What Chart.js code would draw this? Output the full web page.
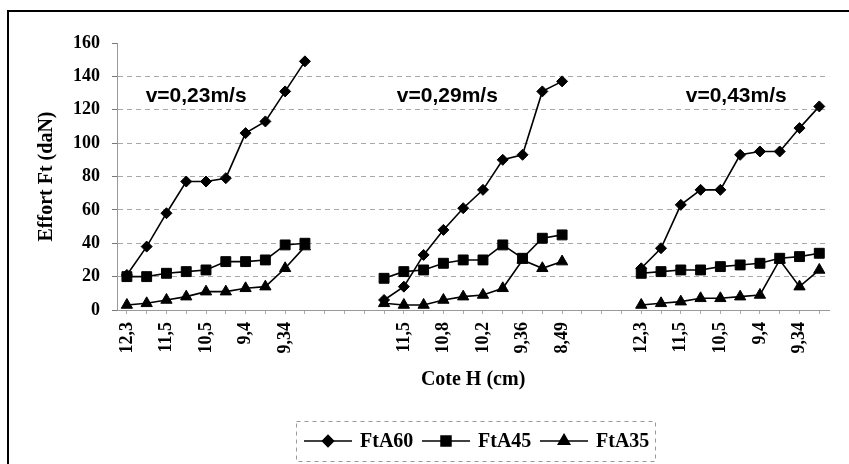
<!DOCTYPE html>
<html>
<head>
<meta charset="utf-8">
<script src="https://cdn.jsdelivr.net/npm/chart.js@4.4.1/dist/chart.umd.min.js"></script>
<style>
  html, body { margin: 0; padding: 0; background: #fff; }
  #wrap { width: 849px; height: 464px; position: relative; }
</style>
</head>
<body>
<div id="wrap"><canvas id="chartEffort"></canvas></div>
<script>
// ============= DATA =============
// tick labels per speed group (Excel shows every other category)
const ticksV23 = ['12,3','','11,5','','10,5','','9,4','','9,34',''];
const ticksV29 = ['','11,5','','10,8','','10,2','','9,36','','8,49'];
const ticksV43 = ['12,3','','11,5','','10,5','','9,4','','9,34',''];
const speedLabels = ['v=0,23m/s','v=0,29m/s','v=0,43m/s'];
const seriesNames = ['FtA60','FtA45','FtA35'];

const ftA60_v23 = [21,38,58,77,77,79,106,113,131,149];
const ftA45_v23 = [20,20,22,23,24,29,29,30,39,40];
const ftA35_v23 = [3,4,6,8,11,11,13,14,25,38];

const ftA60_v29 = [6,14,33,48,61,72,90,93,131,137];
const ftA45_v29 = [19,23,24,28,30,30,39,31,43,45];
const ftA35_v29 = [4,3,3,6,8,9,13,30,25,29];

const ftA60_v43 = [25,37,63,72,72,93,95,95,109,122];
const ftA45_v43 = [22,23,24,24,26,27,28,31,32,34];
const ftA35_v43 = [3,4,5,7,7,8,9,30,14,24];

const GAP = 3; // empty categories between groups
function joinGroups(a, b, c, fill){
  const g = new Array(GAP).fill(fill);
  return [...a, ...g, ...b, ...g, ...c];
}

const labels = joinGroups(ticksV23, ticksV29, ticksV43, '');
const SERIF = "'Liberation Serif', 'Times New Roman', serif";
const SANS = "'Liberation Sans', Arial, sans-serif";

function ds(name, data, style, radius){
  return {
    label: name, data,
    borderColor: '#000', backgroundColor: '#000',
    borderWidth: 1.6, tension: 0, spanGaps: false,
    pointStyle: style, pointRadius: radius, pointHoverRadius: radius,
    pointBorderWidth: 1, pointBackgroundColor: '#000', pointBorderColor: '#000'
  };
}

// ============= PLUGINS =============
const framePlugin = {
  id: 'frame',
  beforeDraw(chart){
    const c = chart.ctx;
    c.save();
    c.fillStyle = '#fff';
    c.fillRect(0, 0, chart.width, chart.height);
    c.strokeStyle = '#000';
    c.lineWidth = 2;
    c.beginPath();
    c.moveTo(8, chart.height);
    c.lineTo(8, 11);
    c.lineTo(chart.width, 11);
    c.stroke();
    c.restore();
  }
};

const speedPlugin = {
  id: 'speedText',
  afterDatasetsDraw(chart){
    const c = chart.ctx, xs = chart.scales.x, ys = chart.scales.y;
    const at = [3.5, 16.2, 30.8];
    c.save();
    c.font = 'bold 21px ' + SANS;
    c.fillStyle = '#000';
    c.textAlign = 'center';
    c.textBaseline = 'middle';
    speedLabels.forEach((t, i) => {
      c.fillText(t, xs.getPixelForValue(at[i]), ys.getPixelForValue(128));
    });
    c.restore();
  }
};

const legendPlugin = {
  id: 'lineLegend',
  afterDraw(chart){
    const c = chart.ctx;
    const box = {l: 296, t: 421, r: 655, b: 461};
    const cy = (box.t + box.b) / 2;
    c.save();
    c.strokeStyle = '#999';
    c.lineWidth = 1;
    c.setLineDash([4, 4]);
    c.strokeRect(box.l + 0.5, box.t + 0.5, box.r - box.l, box.b - box.t);
    c.setLineDash([]);
    const starts = [304, 422, 540];
    chart.data.datasets.forEach((d, i) => {
      const x0 = starts[i];
      c.strokeStyle = '#000';
      c.lineWidth = 1.6;
      c.beginPath();
      c.moveTo(x0, cy);
      c.lineTo(x0 + 48, cy);
      c.stroke();
      c.fillStyle = '#000';
      Chart.helpers.drawPoint(c, {pointStyle: d.pointStyle, radius: d.pointRadius, borderWidth: 1}, x0 + 24, cy);
      c.fill();
      c.font = 'bold 20px ' + SERIF;
      c.textAlign = 'left';
      c.textBaseline = 'middle';
      c.fillText(d.label, x0 + 56, cy + 1);
    });
    c.restore();
  }
};

// ============= CHART =============
new Chart(document.getElementById('chartEffort'), {
  type: 'line',
  data: {
    labels,
    datasets: [
      ds(seriesNames[0], joinGroups(ftA60_v23, ftA60_v29, ftA60_v43, null), 'rectRot', 5.5),
      ds(seriesNames[1], joinGroups(ftA45_v23, ftA45_v29, ftA45_v43, null), 'rect', 7),
      ds(seriesNames[2], joinGroups(ftA35_v23, ftA35_v29, ftA35_v43, null), 'triangle', 6.5)
    ]
  },
  options: {
    responsive: true,
    maintainAspectRatio: false,
    animation: false,
    layout: { padding: { top: 43, right: 7, bottom: 64, left: 0 } },
    plugins: {
      legend: { display: false },
      tooltip: { enabled: false }
    },
    scales: {
      x: {
        offset: true,
        afterFit: s => { s.height = 90; },
        grid: { drawOnChartArea: false, drawTicks: true, tickLength: 4, color: '#aaa' },
        border: { color: '#999', width: 1 },
        ticks: {
          autoSkip: false, minRotation: 90, maxRotation: 90, padding: 8,
          color: '#000', font: { family: SERIF, size: 18, weight: 'bold' }
        },
        title: {
          display: true, text: 'Cote H (cm)', color: '#000',
          font: { family: SERIF, size: 20, weight: 'bold' },
          padding: { top: 0, bottom: 8 }
        }
      },
      y: {
        min: 0, max: 160,
        afterFit: s => { s.width = 117; },
        grid: {
          color: c => (c.tick && c.tick.value === 160) ? 'rgba(0,0,0,0)' : '#a8a8a8',
          lineWidth: 1, tickLength: 5, tickColor: '#777'
        },
        border: { color: '#999', width: 1, dash: [5, 4] },
        ticks: {
          stepSize: 20, padding: 12, color: '#000',
          font: { family: SERIF, size: 18, weight: 'bold' }
        },
        title: {
          display: true, text: 'Effort Ft (daN)', color: '#000',
          font: { family: SERIF, size: 20, weight: 'bold' },
          padding: { top: 35, bottom: 0 }
        }
      }
    }
  },
  plugins: [framePlugin, speedPlugin, legendPlugin]
});
</script>
</body>
</html>
